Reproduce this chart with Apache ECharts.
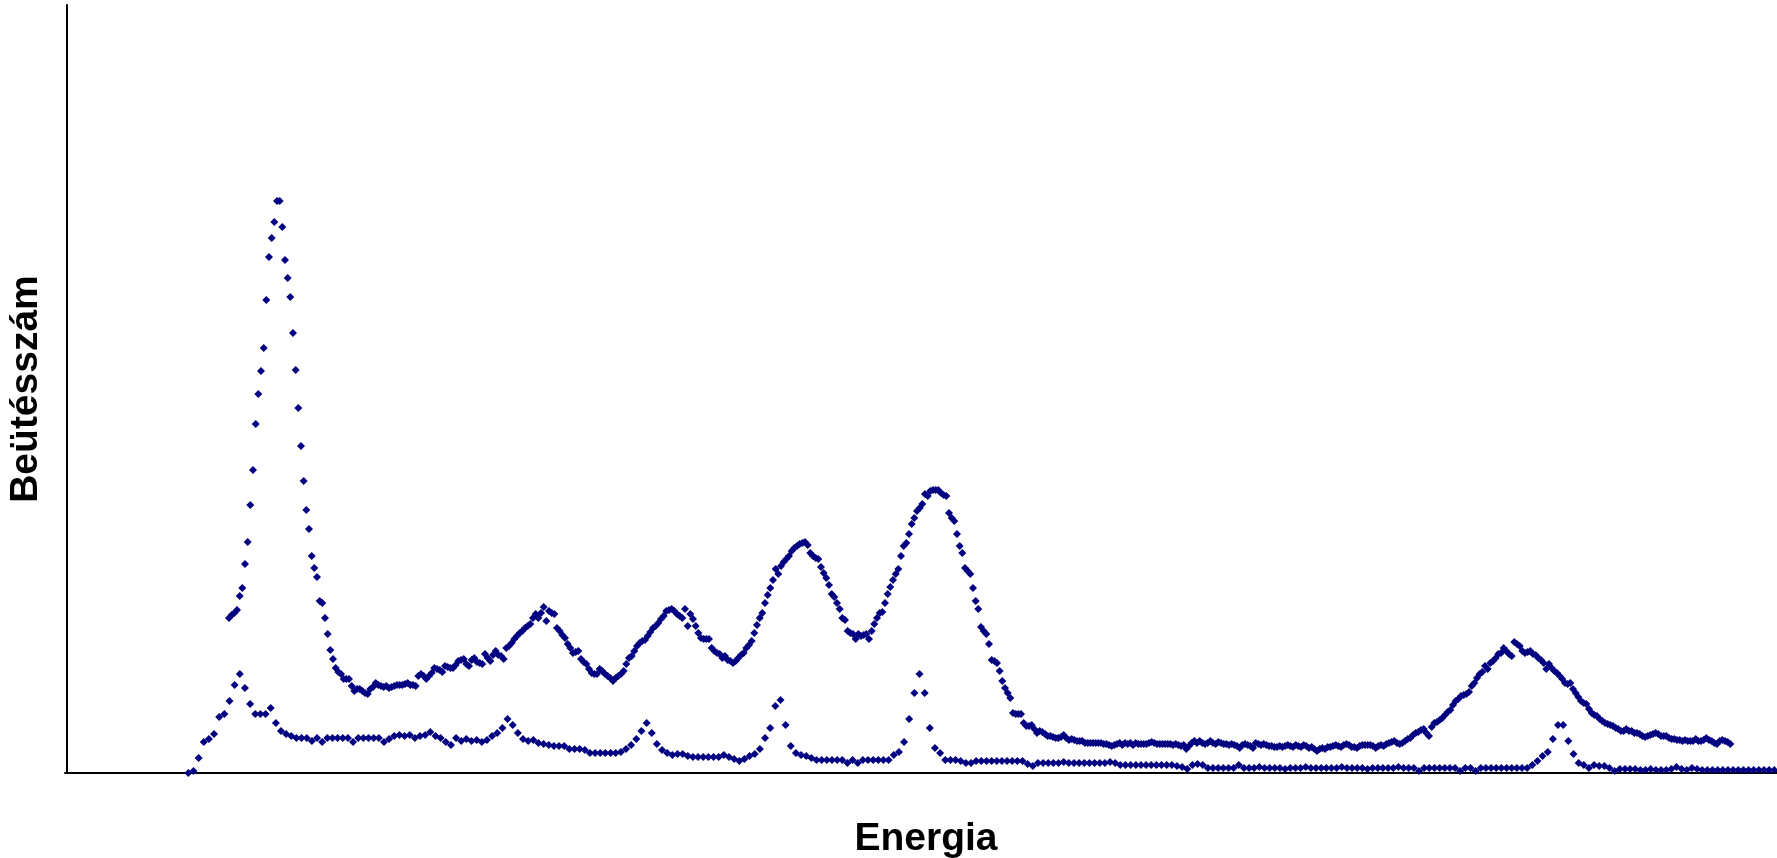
<!DOCTYPE html>
<html>
<head>
<meta charset="utf-8">
<title>Spektrum</title>
<script src="https://cdn.jsdelivr.net/npm/echarts@6/dist/echarts.min.js"></script>
<style>
  html, body { margin: 0; padding: 0; background: #fff; }
  #chart { width: 1777px; height: 858px; }
</style>
</head>
<body>
<div id="chart"></div>
<script>
// upper spectrum: one point per channel, starting at channel 61
var upperStart = 61;
var upper = [
  155,158,160,163,177,185,209,231,268,303,349,379,402,425,473,516,535,551,572,572,
  546,513,495,476,440,403,365,327,292,263,244,217,205,196,172,170,155,139,123,114,
  105,101,99,94,94,94,87,82,84,84,82,80,79,84,86,90,88,87,86,87,
  85,86,87,88,88,88,89,90,88,88,87,97,99,97,94,97,100,105,104,103,
  101,107,106,105,105,108,112,113,114,109,107,113,115,111,110,109,119,115,112,118,
  122,118,117,114,125,127,130,134,137,140,142,145,147,149,155,159,155,160,166,152,
  162,160,159,145,142,138,135,129,125,120,121,122,114,111,109,104,100,99,99,104,
  102,99,97,95,92,95,97,99,102,109,115,117,122,127,130,132,133,137,141,145,
  147,150,154,157,162,163,164,162,159,157,155,164,147,159,154,147,140,135,134,134,
  134,125,122,120,119,115,117,113,112,110,112,115,118,120,125,128,132,140,148,155,
  160,170,178,185,193,204,199,207,211,214,217,222,225,227,229,230,231,228,220,217,
  215,214,206,200,195,188,179,176,170,164,155,153,142,140,139,134,139,137,138,139,
  134,142,149,155,160,161,170,179,186,193,199,204,217,227,230,239,249,255,262,265,
  269,279,277,282,283,283,283,280,278,277,260,255,252,239,227,220,205,202,199,185,
  172,164,146,142,139,129,113,112,110,102,92,85,80,75,60,59,59,59,50,47,
  47,48,44,40,42,41,39,37,
  37,36,35,35,36,38,35,33,34,33,32,32,32,30,30,30,30,30,30,30,29,29,28,
  27,28,29,30,28,30,29,30,28,30,29,29,29,29,30,31,30,
  29,29,29,29,29,29,28,29,28,27,28,24,27,30,32,30,32,30,29,30,
  32,30,29,31,30,29,29,28,29,28,27,25,28,29,28,27,25,30,29,
  28,29,28,27,27,26,26,27,26,27,28,27,26,28,27,26,28,27,25,26,24,22,
  24,25,24,26,26,27,28,27,26,28,29,28,26,26,25,27,28,
  28,28,28,27,25,27,28,27,29,30,31,32,30,29,
  30,32,34,35,38,40,41,43,44,40,37,46,50,51,53,55,58,61,63,68,
  72,74,77,78,79,81,87,90,95,99,101,107,104,110,112,115,119,120,125,122,
  119,117,131,129,127,122,120,121,122,119,118,115,113,110,104,109,105,102,100,97,
  94,90,89,90,84,80,76,72,70,69,64,60,58,57,54,52,50,49,48,47,
  45,44,42,42,44,42,42,40,40,39,37,36,37,38,39,40,39,37,37,37,
  35,34,34,33,33,32,33,32,32,32,34,32,32,33,35,33,32,30,29,32,
  33,32,31,29
];

// lower spectrum: sampled a little less than every second channel
var lowerStart = 45.74;
var lowerStep = 1.931;
var lower = [
  0,2,15,31,34,39,56,59,72,88,99,85,69,59,59,59,65,50,42,39,37,
  35,35,35,32,35,31,35,35,35,35,35,31,35,35,35,35,35,31,34,37,
  38,37,38,35,37,38,41,37,35,31,28,35,32,34,32,33,31,33,37,40,45,
  54,48,40,34,32,33,30,29,28,27,27,27,24,24,24,23,20,20,20,20,
  20,20,21,24,28,34,42,50,40,29,23,20,18,19,19,17,16,16,16,16,
  16,16,18,16,14,12,14,17,19,24,35,45,67,73,48,27,20,18,17,15,
  13,13,13,13,13,13,10,13,10,13,13,13,13,13,13,18,21,31,54,80,
  99,80,45,25,20,13,13,13,12,10,10,12,12,12,12,12,12,12,12,12,
  12,9,7,10,10,10,10,10,11,10,10,10,10,10,10,10,10,11,10,8,
  8,8,8,8,8,8,8,8,8,8,7,6,4,8,9,8,5,5,5,5,
  5,5,8,5,5,5,6,5,5,5,5,4,5,5,5,6,5,5,5,5,
  5,5,6,5,5,5,5,4,5,5,5,5,5,6,5,5,5,2,5,5,
  5,5,5,5,5,2,5,5,2,5,5,5,5,5,5,5,5,5,5,8,
  12,17,21,34,48,48,32,19,10,8,5,8,7,7,5,2,4,4,4,4,
  3,3,4,3,3,3,4,6,4,3,5,4,3,3,3,3,3,3,3,3,3,3,3,3,3,3,3
];

var chart = echarts.init(document.getElementById('chart'));

var upperData = upper.map(function (v, i) { return [upperStart + i, v]; });
var lowerData = lower.map(function (v, i) { return [lowerStart + i * lowerStep, v]; });

var font = '"Liberation Sans", Arial, sans-serif';

var option = {
  animation: false,
  backgroundColor: '#ffffff',
  grid: { left: 65, right: 0, top: 5, bottom: 85, containLabel: false, outerBoundsMode: 'none' },
  xAxis: {
    type: 'value',
    min: -0.5,
    max: 641.5,
    name: 'Energia',
    nameLocation: 'middle',
    nameGap: 47,
    nameTextStyle: { fontFamily: font, fontWeight: 'bold', fontSize: 39, color: '#000', padding: [0, 0, 0, 10] },
    axisLine: { show: true, onZero: false, lineStyle: { color: '#000', width: 2 } },
    axisTick: { show: false },
    axisLabel: { show: false },
    splitLine: { show: false }
  },
  yAxis: {
    type: 'value',
    min: 0,
    max: 768,
    name: 'Beütésszám',
    nameLocation: 'middle',
    nameGap: 19,
    nameTextStyle: { fontFamily: font, fontWeight: 'bold', fontSize: 39, color: '#000' },
    axisLine: { show: true, lineStyle: { color: '#000', width: 2 } },
    axisTick: { show: false },
    axisLabel: { show: false },
    splitLine: { show: false }
  },
  series: [
    {
      name: 'felső',
      type: 'scatter',
      symbol: 'diamond',
      symbolSize: 8,
      itemStyle: { color: '#000080', opacity: 1 },
      data: upperData
    },
    {
      name: 'alsó',
      type: 'scatter',
      symbol: 'diamond',
      symbolSize: 8,
      itemStyle: { color: '#000080', opacity: 1 },
      data: lowerData
    }
  ]
};

chart.setOption(option);
</script>
</body>
</html>
